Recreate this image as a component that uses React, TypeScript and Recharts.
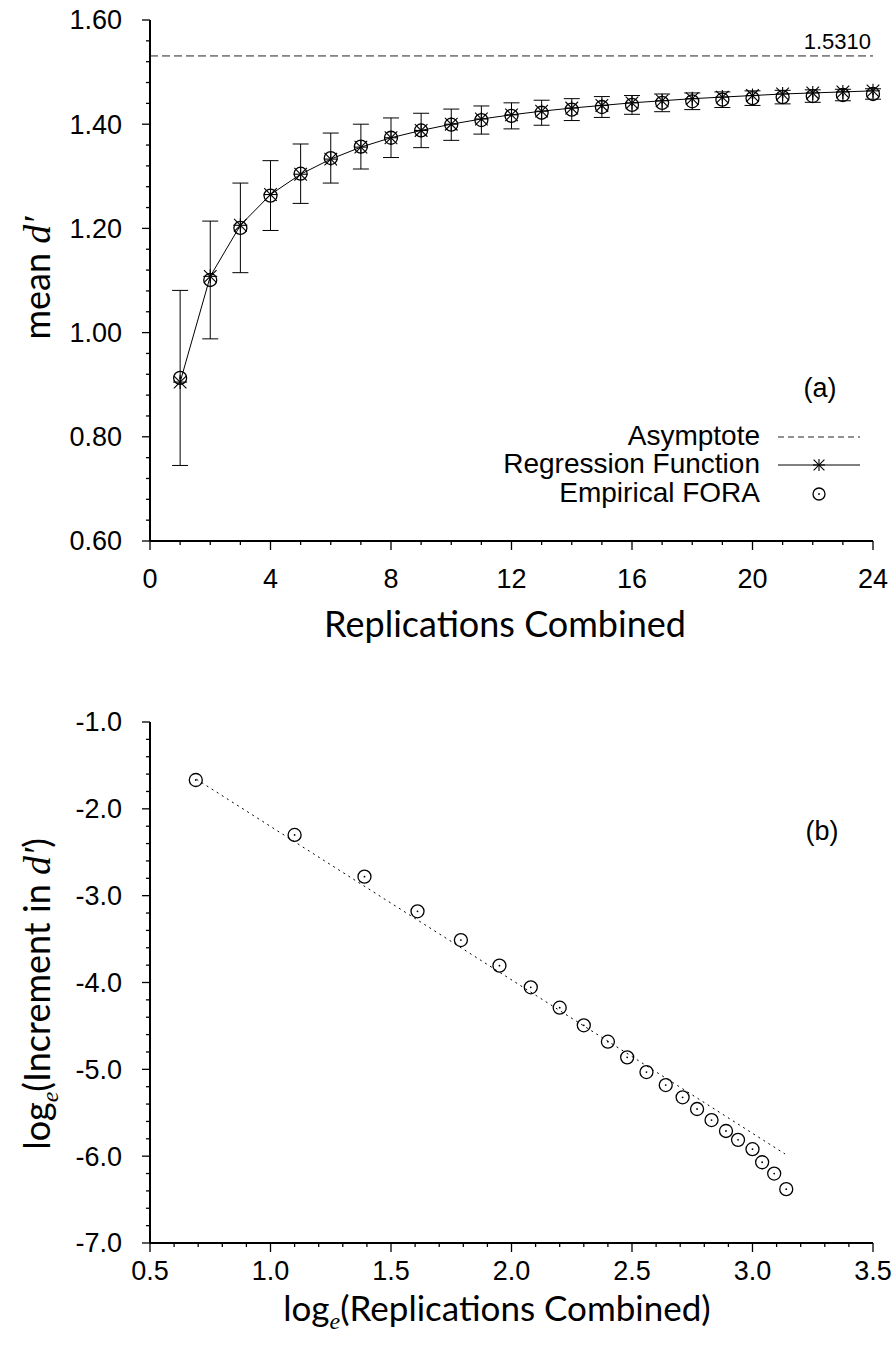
import React from 'react';
import {
  ComposedChart,
  Line,
  Scatter,
  XAxis,
  YAxis,
  ErrorBar,
  ReferenceLine,
} from 'recharts';

// ---- Panel (a): mean d' against number of replications combined ----
const replications = [
  1, 2, 3, 4, 5, 6, 7, 8, 9, 10, 11, 12, 13, 14, 15, 16, 17, 18, 19, 20, 21, 22, 23, 24,
];
const regressionFunction = [
  0.905, 1.108, 1.206, 1.265, 1.304, 1.333, 1.356, 1.374, 1.388, 1.4, 1.41, 1.418,
  1.425, 1.431, 1.436, 1.441, 1.445, 1.449, 1.452, 1.455, 1.458, 1.46, 1.462, 1.464,
];
const empiricalFora = [
  0.913, 1.101, 1.201, 1.263, 1.305, 1.335, 1.357, 1.374, 1.388, 1.399, 1.408, 1.416,
  1.422, 1.428, 1.433, 1.437, 1.441, 1.444, 1.447, 1.45, 1.452, 1.454, 1.456, 1.458,
];
const foraError = [
  0.168, 0.113, 0.086, 0.067, 0.057, 0.048, 0.043, 0.038, 0.033, 0.03, 0.027, 0.025,
  0.024, 0.021, 0.02, 0.018, 0.017, 0.016, 0.015, 0.014, 0.013, 0.012, 0.011, 0.01,
];
const asymptote = 1.531;

// ---- Panel (b): log increment against log replications ----
const logReplications = [
  0.69, 1.1, 1.39, 1.61, 1.79, 1.95, 2.08, 2.2, 2.3, 2.4, 2.48, 2.56, 2.64, 2.71,
  2.77, 2.83, 2.89, 2.94, 3.0, 3.04, 3.09, 3.14,
];
const logIncrement = [
  -1.668, -2.301, -2.781, -3.18, -3.511, -3.806, -4.055, -4.29, -4.493, -4.682,
  -4.862, -5.031, -5.181, -5.322, -5.457, -5.584, -5.71, -5.812, -5.92, -6.07,
  -6.2, -6.38,
];
const fitLogX = [0.693, 3.135];
const fitLogY = [-1.66, -5.975];

// ---- Tick labels ----
const topXLabels = [0, 4, 8, 12, 16, 20, 24];
const topYLabels = [0.6, 0.8, 1.0, 1.2, 1.4, 1.6];
const bottomXLabels = [0.5, 1.0, 1.5, 2.0, 2.5, 3.0, 3.5];
const bottomYLabels = [-7, -6, -5, -4, -3, -2, -1];

const stepTicks = (from: number, to: number, step: number) => {
  const out: number[] = [];
  const n = Math.round((to - from) / step);
  for (let i = 0; i <= n; i++) out.push(Math.round((from + i * step) * 1000) / 1000);
  return out;
};
const topXTicks = stepTicks(0, 24, 1);
const topYTicks = stepTicks(0.6, 1.6, 0.04);
const bottomXTicks = stepTicks(0.5, 3.5, 0.1);
const bottomYTicks = stepTicks(-7, -1, 0.2);

const panelA = replications.map((k, i) => ({
  k,
  reg: regressionFunction[i],
  fora: empiricalFora[i],
  err: foraError[i],
}));
const panelB = logReplications.map((x, i) => ({ x, y: logIncrement[i] }));

const SANS = '"Liberation Sans", Arial, Helvetica, sans-serif';
const TITLE = 'Lato, "Open Sans", sans-serif';
const SERIF = '"Liberation Serif", "DejaVu Serif", serif';
const TICK_FS = 27;

const isIn = (list: number[], v: number) => list.some((l) => Math.abs(l - v) < 1e-6);

const makeXTick = (labels: number[], fmt: (v: number) => string, labelDy: number) =>
  (props: any) => {
    const { x, y, payload } = props;
    const v = payload.value as number;
    const major = isIn(labels, v);
    return (
      <g>
        <line x1={x} x2={x} y1={y} y2={y + (major ? 9 : 4)} stroke="#000" strokeWidth={1.3} />
        {major && (
          <text x={x} y={y + labelDy} textAnchor="middle" fontSize={TICK_FS} fontFamily={SANS} fill="#000">
            {fmt(v)}
          </text>
        )}
      </g>
    );
  };

const makeYTick = (labels: number[], fmt: (v: number) => string) => (props: any) => {
  const { x, y, payload } = props;
  const v = payload.value as number;
  const major = isIn(labels, v);
  return (
    <g>
      <line x1={x} x2={x - (major ? 8 : 4)} y1={y} y2={y} stroke="#000" strokeWidth={1.3} />
      {major && (
        <text x={x - 28} y={y} dy="0.35em" textAnchor="end" fontSize={TICK_FS} fontFamily={SANS} fill="#000">
          {fmt(v)}
        </text>
      )}
    </g>
  );
};

const Star = ({ cx, cy, s = 7 }: { cx: number; cy: number; s?: number }) => {
  const d = s * 0.9;
  return (
    <g stroke="#000" strokeWidth={1.1}>
      <line x1={cx - s} y1={cy} x2={cx + s} y2={cy} />
      <line x1={cx} y1={cy - s} x2={cx} y2={cy + s} />
      <line x1={cx - d} y1={cy - d} x2={cx + d} y2={cy + d} />
      <line x1={cx - d} y1={cy + d} x2={cx + d} y2={cy - d} />
    </g>
  );
};

const DotCircle = ({ cx, cy, r = 6.5 }: { cx: number; cy: number; r?: number }) => (
  <g>
    <circle cx={cx} cy={cy} r={r} fill="none" stroke="#000" strokeWidth={1.3} />
    <circle cx={cx} cy={cy} r={0.9} fill="#000" />
  </g>
);

const TopXTitle = () => (
  <g>
    <text x={505} y={637} textAnchor="middle" fontSize={36} fontFamily={TITLE} fill="#000">
      Replications Combined
    </text>
    <text x={820} y={397} textAnchor="middle" fontSize={27} fontFamily={SANS} fill="#000">
      (a)
    </text>
    <g fontFamily={SANS} fontSize={28} fill="#000" textAnchor="end">
      <text x={760} y={445}>Asymptote</text>
      <text x={760} y={473}>Regression Function</text>
      <text x={760} y={502}>Empirical FORA</text>
    </g>
    <line x1={778} x2={860} y1={437} y2={437} stroke="#222" strokeDasharray="6 4" strokeWidth={1} />
    <line x1={778} x2={860} y1={465} y2={465} stroke="#000" strokeWidth={1} />
    <Star cx={819} cy={465} s={6} />
    <DotCircle cx={819} cy={494} r={6} />
  </g>
);

const TopYTitle = () => (
  <text transform="translate(50,278) rotate(-90)" textAnchor="middle" fontSize={36} fontFamily={TITLE} fill="#000">
    mean{' '}
    <tspan fontFamily={SERIF} fontStyle="italic" fontSize={38}>
      d′
    </tspan>
  </text>
);

const BottomXTitle = () => (
  <g>
    <text x={497} y={641} textAnchor="middle" fontSize={35} fontFamily={TITLE} fill="#000">
      log
      <tspan dy={8} fontFamily={SERIF} fontStyle="italic" fontSize={24}>
        e
      </tspan>
      <tspan dy={-8}>(Replications Combined)</tspan>
    </text>
    <text x={822} y={160} textAnchor="middle" fontSize={27} fontFamily={SANS} fill="#000">
      (b)
    </text>
  </g>
);

const BottomYTitle = () => (
  <text transform="translate(50,314) rotate(-90)" textAnchor="middle" fontSize={36} fontFamily={TITLE} fill="#000">
    log
    <tspan dy={8} fontFamily={SERIF} fontStyle="italic" fontSize={24}>
      e
    </tspan>
    <tspan dy={-8}>(Increment in </tspan>
    <tspan fontFamily={SERIF} fontStyle="italic" fontSize={38}>
      d′
    </tspan>
    <tspan>)</tspan>
  </text>
);

const AsymptoteLabel = (props: any) => {
  const vb = props.viewBox || {};
  return (
    <text x={(vb.x ?? 150) + (vb.width ?? 723) - 2} y={(vb.y ?? 56) - 7} textAnchor="end" fontSize={22} fontFamily={SANS} fill="#000">
      {asymptote.toFixed(4)}
    </text>
  );
};

const axisLine = { stroke: '#000', strokeWidth: 2 };

export default function App() {
  return (
    <div style={{ position: 'absolute', left: 0, top: 0, width: 894, height: 1352, background: '#fff' }}>
      <div style={{ position: 'absolute', left: 0, top: 0 }}>
        <ComposedChart width={894} height={680} data={panelA} margin={{ top: 20, right: 21, bottom: 0, left: 0 }}>
          <XAxis
            dataKey="k"
            type="number"
            domain={[0, 24]}
            ticks={topXTicks}
            interval={0}
            height={139}
            axisLine={axisLine}
            tickLine={false}
            tickSize={0}
            tickMargin={0}
            tick={makeXTick(topXLabels, (v) => String(v), 47)}
            label={() => <TopXTitle />}
          />
          <YAxis
            type="number"
            domain={[0.6, 1.6]}
            ticks={topYTicks}
            interval={0}
            width={150}
            axisLine={axisLine}
            tickLine={false}
            tickSize={0}
            tickMargin={0}
            tick={makeYTick(topYLabels, (v) => v.toFixed(2))}
            label={() => <TopYTitle />}
          />
          <ReferenceLine
            y={asymptote}
            stroke="#222"
            strokeWidth={1}
            strokeDasharray="8 4"
            label={AsymptoteLabel}
          />
          <Line
            dataKey="reg"
            stroke="#000"
            strokeWidth={1}
            isAnimationActive={false}
            dot={(p: any) => <Star key={`s${p.index}`} cx={p.cx} cy={p.cy} />}
            activeDot={false}
          />
          <Scatter
            dataKey="fora"
            isAnimationActive={false}
            shape={(p: any) => <DotCircle cx={p.cx} cy={p.cy} />}
          >
            <ErrorBar dataKey="err" direction="y" width={8} stroke="#000" strokeWidth={1} />
          </Scatter>
        </ComposedChart>
      </div>
      <div style={{ position: 'absolute', left: 0, top: 680 }}>
        <ComposedChart width={894} height={672} margin={{ top: 42, right: 21, bottom: 0, left: 0 }}>
          <XAxis
            dataKey="x"
            type="number"
            domain={[0.5, 3.5]}
            ticks={bottomXTicks}
            interval={0}
            height={109}
            axisLine={axisLine}
            tickLine={false}
            tickSize={0}
            tickMargin={0}
            tick={makeXTick(bottomXLabels, (v) => v.toFixed(1), 37)}
            label={() => <BottomXTitle />}
          />
          <YAxis
            dataKey="y"
            type="number"
            domain={[-7, -1]}
            ticks={bottomYTicks}
            interval={0}
            width={150}
            axisLine={axisLine}
            tickLine={false}
            tickSize={0}
            tickMargin={0}
            tick={makeYTick(bottomYLabels, (v) => v.toFixed(1))}
            label={() => <BottomYTitle />}
          />
          <ReferenceLine
            segment={[
              { x: fitLogX[0], y: fitLogY[0] },
              { x: fitLogX[1], y: fitLogY[1] },
            ]}
            stroke="#000"
            strokeWidth={1}
            strokeDasharray="2 4"
          />
          <Scatter
            data={panelB}
            dataKey="y"
            isAnimationActive={false}
            shape={(p: any) => <DotCircle cx={p.cx} cy={p.cy} />}
          />
        </ComposedChart>
      </div>
    </div>
  );
}
